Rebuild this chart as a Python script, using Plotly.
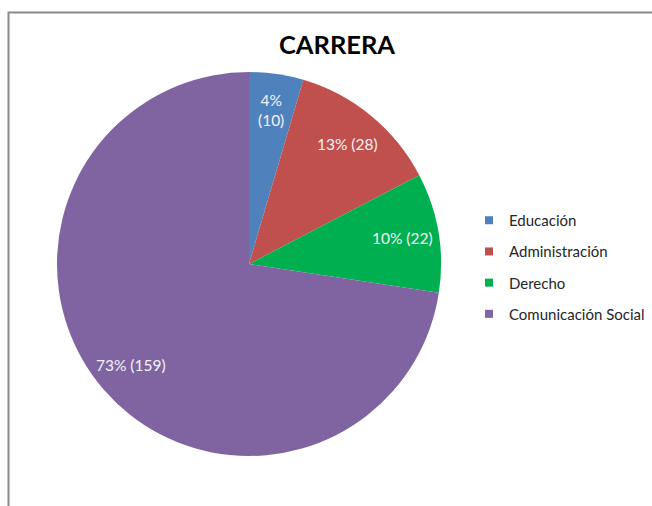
import math
import plotly.graph_objects as go

# Career distribution of respondents
careers = ["Educación", "Administración", "Derecho", "Comunicación Social"]
counts = [10, 28, 22, 159]
pct_labels = ["4%", "13%", "10%", "73%"]
colors = ["#4F81BD", "#C0504D", "#00B050", "#8064A2"]

W, H = 652, 506
# pie placement (paper fractions)
dom_x = [57 / W, 441 / W]
dom_y = [50 / H, 434 / H]

fig = go.Figure()
fig.add_trace(go.Pie(
    labels=careers,
    values=counts,
    sort=False,
    direction="clockwise",
    rotation=0,
    marker=dict(colors=colors, line=dict(width=0)),
    textinfo="none",
    hoverinfo="label+value+percent",
    showlegend=False,
    domain=dict(x=dom_x, y=dom_y),
))

# legend entries as square markers, one group each so the gap can be set
for name, col in zip(careers, colors):
    fig.add_trace(go.Scatter(
        x=[None], y=[None], mode="markers", name=name,
        legendgroup=name,
        marker=dict(symbol="square", size=8, color=col),
        showlegend=True,
    ))

# value labels placed along each slice's mid-angle
total = sum(counts)
cx = (dom_x[0] + dom_x[1]) / 2
cy = (dom_y[0] + dom_y[1]) / 2
R = (dom_x[1] - dom_x[0]) * W / 2
cum = 0
for cnt, pct in zip(counts, pct_labels):
    mid = (cum + cnt / 2) / total * 2 * math.pi
    cum += cnt
    r = 0.81 * R
    x = cx + r * math.sin(mid) / W
    y = cy + r * math.cos(mid) / H
    frac = cnt / total
    text = f"{pct}<br>({cnt})" if frac < 0.06 else f"{pct} ({cnt})"
    fig.add_annotation(x=x, y=y, xref="paper", yref="paper", text=text,
                       showarrow=False, xanchor="center", yanchor="middle",
                       font=dict(family="Lato", size=15.5, color="#f4f2f8"))

# chart frame
fig.add_shape(type="rect", xref="paper", yref="paper",
              x0=8.5 / W, y0=-0.05, x1=1.05, y1=1 - 12.5 / H,
              line=dict(color="#8a8a8a", width=2), fillcolor="rgba(0,0,0,0)")

fig.update_layout(
    width=W, height=H,
    margin=dict(l=0, r=0, t=0, b=0),
    paper_bgcolor="white", plot_bgcolor="white",
    title=dict(text="<b>CARRERA</b>", x=337 / W, xanchor="center",
               y=1 - 45 / H, yanchor="middle",
               font=dict(family="Lato", size=25.5, color="black")),
    xaxis=dict(visible=False), yaxis=dict(visible=False),
    legend=dict(x=469 / W, y=1 - 204 / H, xanchor="left", yanchor="top",
                font=dict(family="Lato", size=15, color="#262626"),
                tracegroupgap=8.7, itemwidth=30,
                bgcolor="rgba(0,0,0,0)"),
)

fig.write_html("out.html")
